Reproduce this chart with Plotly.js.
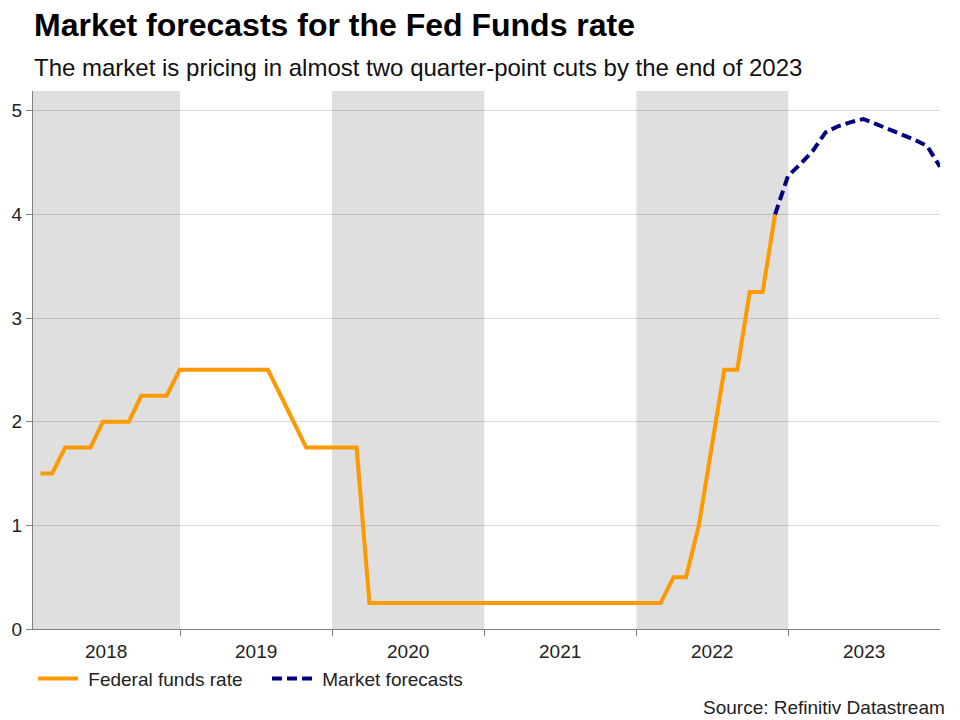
<!DOCTYPE html>
<html>
<head>
<meta charset="utf-8">
<script src="https://cdn.plot.ly/plotly-3.0.1.min.js"></script>
<style>
  html, body { margin: 0; padding: 0; background: #fff; }
  #chart { width: 960px; height: 720px; }
</style>
</head>
<body>
<div id="chart"></div>
<script>
// ---- Data (month-end observations) ----
const fedDates = [
  '2018-01-31','2018-02-28','2018-03-31','2018-04-30','2018-05-31','2018-06-30',
  '2018-07-31','2018-08-31','2018-09-30','2018-10-31','2018-11-30','2018-12-31',
  '2019-01-31','2019-02-28','2019-03-31','2019-04-30','2019-05-31','2019-06-30',
  '2019-07-31','2019-08-31','2019-09-30','2019-10-31','2019-11-30','2019-12-31',
  '2020-01-31','2020-02-29','2020-03-31','2020-04-30','2020-05-31','2020-06-30',
  '2020-07-31','2020-08-31','2020-09-30','2020-10-31','2020-11-30','2020-12-31',
  '2021-01-31','2021-02-28','2021-03-31','2021-04-30','2021-05-31','2021-06-30',
  '2021-07-31','2021-08-31','2021-09-30','2021-10-31','2021-11-30','2021-12-31',
  '2022-01-31','2022-02-28','2022-03-31','2022-04-30','2022-05-31','2022-06-30',
  '2022-07-31','2022-08-31','2022-09-30','2022-10-31','2022-11-30'
];
const fedRate = [
  1.5, 1.5, 1.75, 1.75, 1.75, 2.0, 2.0, 2.0, 2.25, 2.25, 2.25, 2.5,
  2.5, 2.5, 2.5, 2.5, 2.5, 2.5, 2.5, 2.25, 2.0, 1.75, 1.75, 1.75,
  1.75, 1.75, 0.25, 0.25, 0.25, 0.25, 0.25, 0.25, 0.25, 0.25, 0.25, 0.25,
  0.25, 0.25, 0.25, 0.25, 0.25, 0.25, 0.25, 0.25, 0.25, 0.25, 0.25, 0.25,
  0.25, 0.25, 0.5, 0.5, 1.0, 1.75, 2.5, 2.5, 3.25, 3.25, 4.0
];
const fcDates = [
  '2022-11-30','2022-12-31','2023-01-31','2023-02-28','2023-03-31','2023-04-30',
  '2023-05-31','2023-06-30','2023-07-31','2023-08-31','2023-09-30','2023-10-31',
  '2023-11-30','2023-12-31'
];
const fcRate = [4.0, 4.37, 4.49, 4.61, 4.79, 4.85, 4.89, 4.92, 4.87, 4.82, 4.77, 4.72, 4.66, 4.46];

const years = [2018, 2019, 2020, 2021, 2022, 2023];
const shadedYears = [2018, 2020, 2022];
const yTicks = [0, 1, 2, 3, 4, 5];

const seriesNames = ['Federal funds rate', 'Market forecasts'];
const titleText = 'Market forecasts for the Fed Funds rate';
const subtitleText = 'The market is pricing in almost two quarter-point cuts by the end of 2023';
const sourceText = 'Source: Refinitiv Datastream';

// ---- Layout helpers ----
const xStart = '2018-01-13';
const xEnd = '2023-12-31';
const FONT = '"Liberation Sans", Arial, sans-serif';
const TXT = 19;

const t0 = Date.parse(xStart), t1 = Date.parse(xEnd);
function iso(ms) { return new Date(ms).toISOString().slice(0, 10); }

const shapes = shadedYears.map(y => ({
  type: 'rect', xref: 'x', yref: 'paper', layer: 'below',
  x0: iso(Math.max(Date.parse(y + '-01-01'), t0)),
  x1: iso(Math.min(Date.parse((y + 1) + '-01-01'), t1)),
  y0: 0, y1: 1, fillcolor: '#dfdfdf', line: { width: 0 }
}));

const boundaries = years.slice(1).map(y => y + '-01-01');

const yearLabels = years.map(y => {
  const a = Math.max(Date.parse(y + '-01-01'), t0);
  const b = Math.min(Date.parse((y + 1) + '-01-01'), t1);
  return {
    x: iso((a + b) / 2), y: -0.041, xref: 'x', yref: 'paper',
    text: String(y), showarrow: false, xanchor: 'center', yanchor: 'middle',
    font: { family: FONT, size: TXT, color: '#222' }
  };
});

const annotations = yearLabels.concat([
  { x: -0.001, y: 1.122, xref: 'paper', yref: 'paper', xanchor: 'left', yanchor: 'middle',
    text: '<b>' + titleText + '</b>', showarrow: false,
    font: { family: FONT, size: 32, color: '#000' } },
  { x: -0.001, y: 1.043, xref: 'paper', yref: 'paper', xanchor: 'left', yanchor: 'middle',
    text: subtitleText, showarrow: false,
    font: { family: FONT, size: 24, color: '#111' } },
  { x: 1.0075, y: -0.145, xref: 'paper', yref: 'paper', xanchor: 'right', yanchor: 'middle',
    text: sourceText, showarrow: false,
    font: { family: FONT, size: TXT, color: '#222' } }
]);

const traces = [
  { x: fedDates, y: fedRate, type: 'scatter', mode: 'lines', name: '\u00a0' + seriesNames[0],
    line: { color: '#ff9900', width: 4 } },
  { x: fcDates, y: fcRate, type: 'scatter', mode: 'lines', name: '\u00a0' + seriesNames[1],
    line: { color: '#000080', width: 4, dash: '10px,5px' } }
];

const layout = {
  width: 960, height: 720,
  margin: { l: 33, r: 20, t: 91, b: 91 },
  paper_bgcolor: '#fff', plot_bgcolor: 'rgba(0,0,0,0)',
  font: { family: FONT, size: TXT, color: '#222' },
  showlegend: true,
  legend: { orientation: 'h', x: 0, xanchor: 'left', y: -0.057, yanchor: 'top',
            font: { family: FONT, size: TXT, color: '#222' }, itemwidth: 40,
            entrywidth: 179, bgcolor: 'rgba(0,0,0,0)' },
  xaxis: {
    type: 'date', range: [xStart, xEnd],
    tickmode: 'array', tickvals: boundaries, ticktext: boundaries.map(() => ''),
    ticks: 'outside', ticklen: 6, tickcolor: '#808080', tickwidth: 1,
    showline: true, linecolor: '#808080', linewidth: 1,
    showgrid: false, zeroline: false, fixedrange: true
  },
  yaxis: {
    range: [0, 5.19], tickmode: 'array', tickvals: yTicks,
    ticks: 'outside', ticklen: 6, tickcolor: '#808080', tickwidth: 1,
    showline: true, linecolor: '#808080', linewidth: 1,
    showgrid: true, gridcolor: 'rgba(0,0,0,0.14)', gridwidth: 1,
    zeroline: false, tickfont: { family: FONT, size: TXT, color: '#222' },
    fixedrange: true
  },
  shapes: shapes,
  annotations: annotations
};

Plotly.newPlot('chart', traces, layout, { displayModeBar: false, staticPlot: true });
</script>
</body>
</html>
